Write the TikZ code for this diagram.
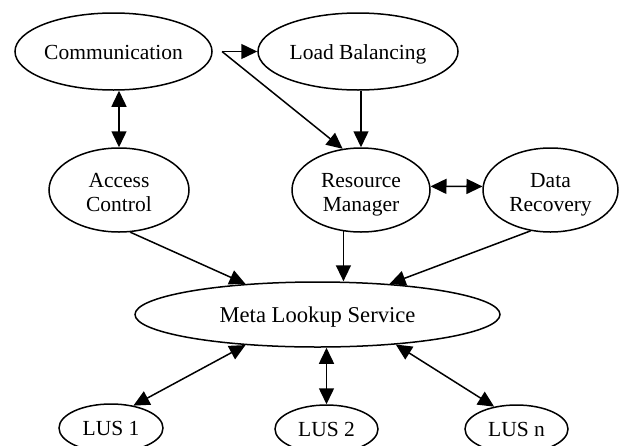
\documentclass[tikz,border=0pt]{standalone}
\usepackage{fontspec}
\setmainfont{Liberation Serif}
\usetikzlibrary{shapes.geometric,arrows.meta}
\newcommand{\tstrut}{\rule{0pt}{24.6pt}}
\newcommand{\bstrut}{\rule[-6pt]{0pt}{6pt}}
\tikzset{
  ell/.style={ellipse, draw, line width=1.5pt, inner sep=0pt, align=center,
    font=\fontsize{21.5}{24}\selectfont},
  one/.style={text height=15.5pt, text depth=0pt},
  conn/.style={line width=1.5pt, -{Triangle[length=16pt,width=15pt]}},
  bconn/.style={line width=1.5pt, {Triangle[length=16pt,width=15pt]}-{Triangle[length=16pt,width=15pt]}}
}
\begin{document}
\begin{tikzpicture}[x=1pt,y=-1pt]
\clip (0,0) rectangle (621,445);
\node[ell, one, minimum width=197pt, minimum height=77pt] (comm) at (113.5,51.5) {Communication};
\node[ell, one, minimum width=200pt, minimum height=77pt] (lb) at (358,51.5) {Load Balancing};
\node[ell, minimum width=140pt, minimum height=84pt] (ac) at (119,190) {\tstrut Access\\Control\bstrut};
\node[ell, minimum width=138pt, minimum height=84pt] (rm) at (361,190) {\tstrut Resource\\Manager\bstrut};
\node[ell, minimum width=135pt, minimum height=84pt] (dr) at (550.5,190) {\tstrut Data\\Recovery\bstrut};
\node[ell, one, minimum width=365pt, minimum height=65pt, font=\fontsize{22.6}{25}\selectfont] (mls) at (317.5,314.5) {Meta Lookup Service};
\node[ell, one, minimum width=104pt, minimum height=48pt] (l1) at (111,428) {LUS 1};
\node[ell, one, minimum width=103pt, minimum height=48pt] (l2) at (326.5,429) {LUS 2};
\node[ell, one, minimum width=103pt, minimum height=48pt] (ln) at (516.5,429) {LUS n};
\coordinate (sp) at (222,51.5);
\draw[conn] (sp) -- (lb.west);
\draw[conn] (sp) -- (rm.114);
\draw[bconn] (ac.north |- comm.south) -- (ac.north);
\draw[conn] (rm.north |- lb.south) -- (rm.north);
\draw[bconn] (rm.3) -- (dr.177);
\draw[conn] (ac.-75) -- (mls.157);
\draw[conn] (rm.-113) -- (rm.-113 |- mls.north);
\draw[conn] (dr.-116) -- (mls.23);
\draw[bconn] (mls.-157) -- (l1.45);
\draw[bconn] (l2.north |- mls.south) -- (l2.north);
\draw[bconn] (mls.-21) -- (ln.135);
\end{tikzpicture}
\end{document}
